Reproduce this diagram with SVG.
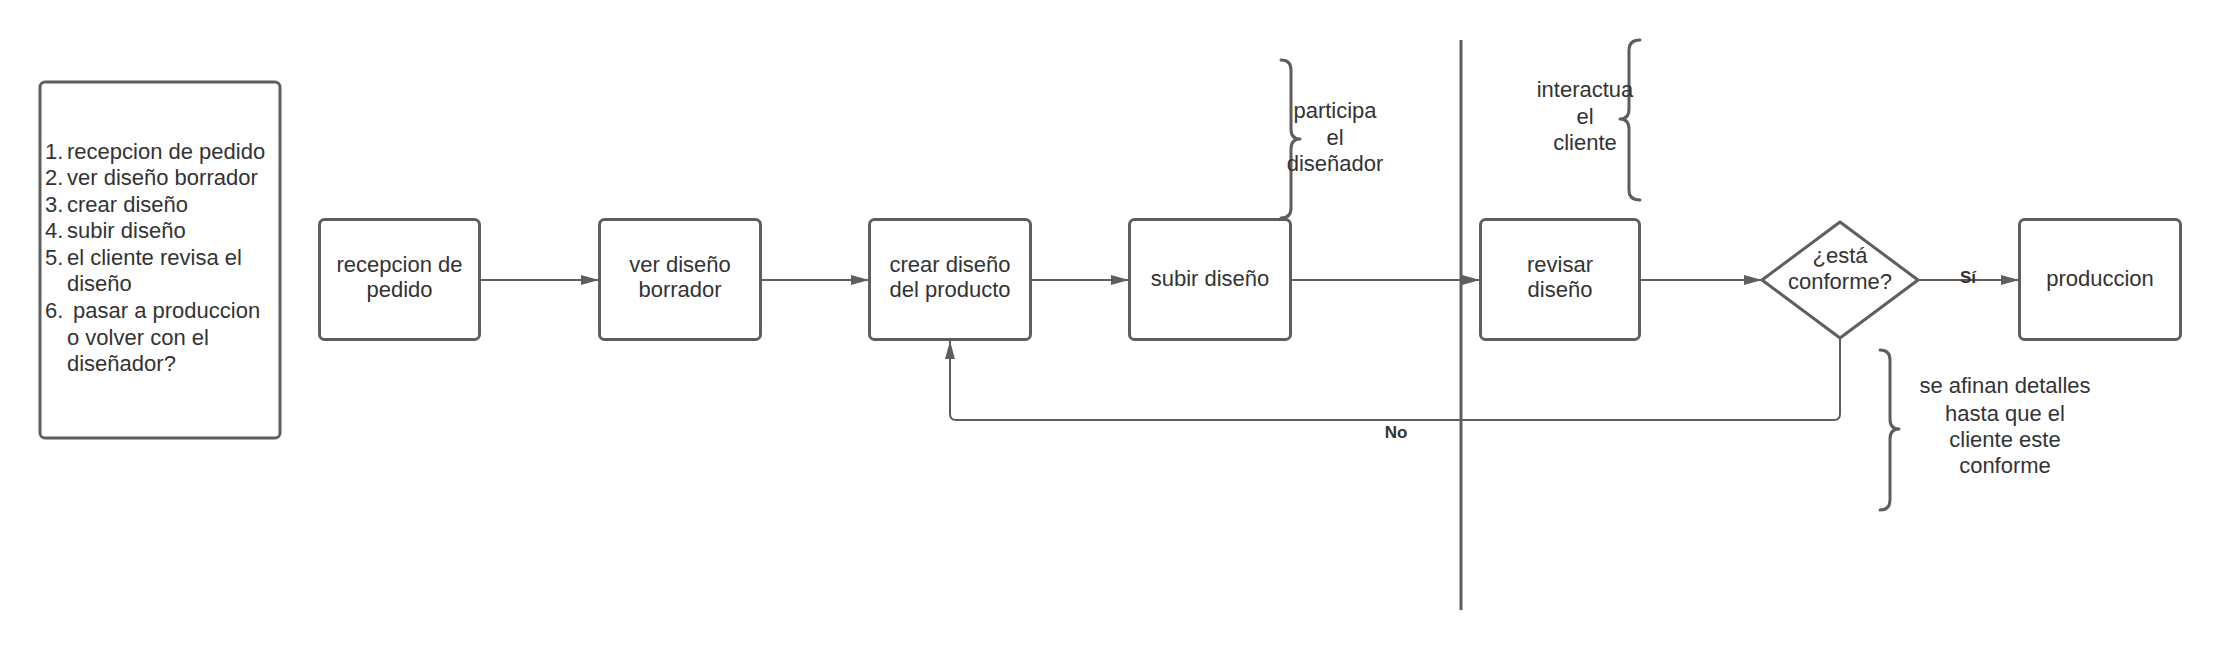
<svg xmlns="http://www.w3.org/2000/svg" width="2220" height="650" viewBox="0 0 2220 650">
<defs>
<style>
.node{fill:#ffffff;stroke:#5e5e5e;stroke-width:3}
.t{font-family:"Liberation Sans",Arial,sans-serif;font-size:22px;fill:#333333}
.c{text-anchor:middle}
.lbl{font-family:"Liberation Sans",Arial,sans-serif;font-size:17px;font-weight:bold;fill:#333333;text-anchor:middle}
.conn{fill:none;stroke:#5e5e5e;stroke-width:2;stroke-linejoin:round}
.brace{fill:none;stroke:#5e5e5e;stroke-width:3;stroke-linecap:round;stroke-linejoin:round}
</style>
<marker id="arr" markerUnits="userSpaceOnUse" markerWidth="18" markerHeight="12" refX="18" refY="5" orient="auto">
<path d="M0,0 L18,5 L0,10 z" fill="#5e5e5e"/>
</marker>
</defs>
<rect width="2220" height="650" fill="#ffffff"/>

<g id="list">
<rect class="node" x="40" y="82" width="240" height="356" rx="5"/>
<text class="t" x="45" y="159">1.</text><text class="t" x="67" y="159">recepcion de pedido</text>
<text class="t" x="45" y="185">2.</text><text class="t" x="67" y="185">ver diseño borrador</text>
<text class="t" x="45" y="212">3.</text><text class="t" x="67" y="212">crear diseño</text>
<text class="t" x="45" y="238">4.</text><text class="t" x="67" y="238">subir diseño</text>
<text class="t" x="45" y="265">5.</text><text class="t" x="67" y="265">el cliente revisa el</text>
<text class="t" x="67" y="291">diseño</text>
<text class="t" x="45" y="318">6.</text><text class="t" x="73" y="318">pasar a produccion</text>
<text class="t" x="67" y="345">o volver con el</text>
<text class="t" x="67" y="371">diseñador?</text>
</g>

<g id="divider">
<line x1="1461" y1="40" x2="1461" y2="610" stroke="#5e5e5e" stroke-width="3"/>
</g>

<g id="connectors">
<line class="conn" x1="480" y1="280" x2="599" y2="280" marker-end="url(#arr)"/>
<line class="conn" x1="761" y1="280" x2="869" y2="280" marker-end="url(#arr)"/>
<line class="conn" x1="1031" y1="280" x2="1129" y2="280" marker-end="url(#arr)"/>
<line class="conn" x1="1291" y1="280" x2="1480" y2="280" marker-end="url(#arr)"/>
<line class="conn" x1="1640" y1="280" x2="1762" y2="280" marker-end="url(#arr)"/>
<line class="conn" x1="1918" y1="280" x2="2019" y2="280" marker-end="url(#arr)"/>
<path class="conn" d="M1840,338 L1840,414 Q1840,420 1834,420 L956,420 Q950,420 950,414 L950,341" marker-end="url(#arr)"/>
<text class="lbl" x="1968" y="283">Sí</text>
<text class="lbl" x="1396" y="438">No</text>
</g>

<g id="n1">
<rect class="node" x="319.5" y="219.5" width="160" height="120" rx="5"/>
<text class="t c" x="399.5" y="272">recepcion de</text>
<text class="t c" x="399.5" y="297">pedido</text>
</g>
<g id="n2">
<rect class="node" x="599.5" y="219.5" width="161" height="120" rx="5"/>
<text class="t c" x="680" y="272">ver diseño</text>
<text class="t c" x="680" y="297">borrador</text>
</g>
<g id="n3">
<rect class="node" x="869.5" y="219.5" width="161" height="120" rx="5"/>
<text class="t c" x="950" y="272">crear diseño</text>
<text class="t c" x="950" y="297">del producto</text>
</g>
<g id="n4">
<rect class="node" x="1129.5" y="219.5" width="161" height="120" rx="5"/>
<text class="t c" x="1210" y="286">subir diseño</text>
</g>
<g id="n5">
<rect class="node" x="1480.5" y="219.5" width="159" height="120" rx="5"/>
<text class="t c" x="1560" y="272">revisar</text>
<text class="t c" x="1560" y="297">diseño</text>
</g>
<g id="n6">
<path class="node" stroke-linejoin="round" d="M1840,222 L1918,280 L1840,338 L1762,280 Z"/>
<text class="t c" x="1840" y="263">¿está</text>
<text class="t c" x="1840" y="289">conforme?</text>
</g>
<g id="n7">
<rect class="node" x="2019.5" y="219.5" width="161" height="120" rx="5"/>
<text class="t c" x="2100" y="286">produccion</text>
</g>

<g id="note-disenador">
<path class="brace" d="M1281,60 Q1291,60 1291,70 L1291,129 Q1291,139 1300,139 Q1291,139 1291,149 L1291,208 Q1291,218 1281,218"/>
<text class="t c" x="1335" y="118">participa</text>
<text class="t c" x="1335" y="145">el</text>
<text class="t c" x="1335" y="171">diseñador</text>
</g>
<g id="note-cliente">
<path class="brace" d="M1640,40 Q1629,40 1629,50 L1629,109 Q1629,119 1620,119 Q1629,119 1629,129 L1629,190 Q1629,200 1640,200"/>
<text class="t c" x="1585" y="97">interactua</text>
<text class="t c" x="1585" y="124">el</text>
<text class="t c" x="1585" y="150">cliente</text>
</g>
<g id="note-detalles">
<path class="brace" d="M1880,350 Q1890,350 1890,360 L1890,419 Q1890,429 1899,429 Q1890,429 1890,439 L1890,500 Q1890,510 1880,510"/>
<text class="t c" x="2005" y="393">se afinan detalles</text>
<text class="t c" x="2005" y="421">hasta que el</text>
<text class="t c" x="2005" y="447">cliente este</text>
<text class="t c" x="2005" y="473">conforme</text>
</g>
</svg>
